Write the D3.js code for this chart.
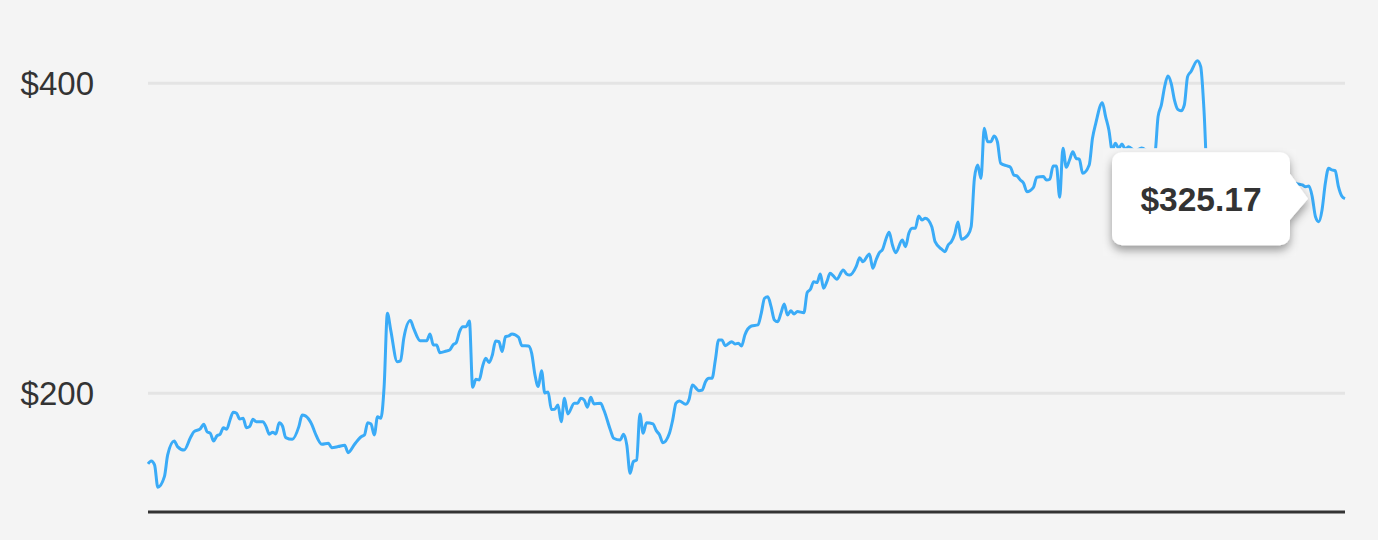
<!DOCTYPE html>
<html>
<head>
<meta charset="utf-8">
<script src="https://cdn.jsdelivr.net/npm/d3@7"></script>
<style>
  html, body { margin: 0; padding: 0; background: #f4f4f4; }
  svg { display: block; }
  .tick text { font-family: "Liberation Sans", Arial, Helvetica, sans-serif; }
</style>
</head>
<body>
<div id="chart"></div>
<script>
// day of year for each reading, and closing price
const days = [
  0, 1, 2, 3, 5, 6, 8, 9, 11, 13, 14, 16, 17, 18, 19, 20, 21, 22, 23, 24,
  25, 26, 27, 28, 29, 30, 31, 32, 33, 35, 36, 37, 38, 39, 40, 41, 42, 44, 46, 47,
  48, 50, 51, 53, 55, 56, 58, 60, 61, 63, 65, 66, 67, 68, 69, 70, 71, 72, 73, 74,
  76, 77, 78, 80, 81, 83, 85, 86, 87, 88, 89, 91, 92, 93, 94, 95, 96, 97, 98, 99,
  100, 101, 102, 103, 104, 105, 106, 107, 108, 109, 110, 111, 113, 114, 116, 117, 118, 119, 120, 121,
  122, 123, 124, 125, 126, 127, 128, 130, 131, 132, 133, 134, 135, 136, 138, 139, 141, 142, 144, 145,
  146, 147, 148, 149, 150, 151, 152, 154, 155, 156, 157, 159, 160, 161, 162, 164, 165, 166, 168, 169,
  170, 171, 172, 173, 174, 175, 176, 178, 179, 180, 181, 182, 184, 186, 187, 188, 189, 190, 191, 192,
  193, 194, 195, 196, 197, 198, 200, 201, 202, 203, 204, 205, 206, 207, 208, 209, 210, 212, 213, 214,
  216, 217, 218, 220, 221, 222, 223, 224, 225, 226, 227, 228, 230, 231, 232, 233, 234, 235, 236, 237,
  239, 240, 242, 243, 244, 245, 246, 247, 248, 250, 251, 252, 253, 254, 255, 256, 257, 258, 259, 260,
  262, 263, 264, 265, 266, 267, 268, 270, 271, 273, 274, 275, 276, 277, 278, 279, 280, 281, 282, 283,
  284, 285, 287, 288, 289, 291, 292, 293, 294, 295, 296, 297, 298, 299, 301, 303, 305, 307, 308, 309,
  310, 311, 312, 313, 314, 315, 316, 317, 318, 320, 321, 322, 323, 324, 327, 331, 335, 338, 341, 344,
  347, 349, 350, 352, 353, 354, 355, 356, 357, 358, 359, 360, 361, 362, 363, 364, 365
];
const prices = [
  154.0, 155.9, 153.4, 139.0, 145.8, 159.8, 168.8, 165.2, 163.0, 171.2, 174.8, 176.8, 179.6, 174.8, 173.8, 168.8, 172.1, 173.2, 177.4, 176.4,
  182.4, 187.4, 186.7, 183.0, 183.5, 177.4, 178.1, 182.8, 181.3, 181.3, 178.1, 173.2, 174.5, 173.4, 180.6, 178.5, 171.0, 169.9, 178.1, 185.6,
  185.0, 179.2, 173.8, 166.7, 167.4, 164.5, 165.2, 166.1, 161.3, 166.7, 171.6, 172.7, 180.6, 179.8, 172.7, 184.5, 183.5, 203.9, 251.2, 240.5,
  220.0, 220.5, 235.1, 246.5, 241.5, 233.5, 233.5, 237.9, 230.8, 230.8, 225.8, 226.9, 227.5, 230.8, 232.3, 239.4, 242.6, 242.6, 246.3, 203.5,
  208.6, 208.2, 216.8, 222.2, 219.4, 224.3, 233.4, 232.9, 226.5, 236.1, 236.6, 237.9, 235.7, 230.3, 230.1, 225.4, 211.4, 203.9, 214.2, 199.8,
  200.5, 189.2, 189.3, 192.1, 181.3, 196.4, 186.3, 193.2, 193.2, 196.4, 195.3, 190.6, 197.0, 192.7, 193.2, 188.8, 175.9, 170.6, 169.5, 173.2,
  166.3, 148.0, 155.5, 156.6, 186.3, 173.8, 180.6, 179.8, 175.5, 172.7, 167.7, 173.8, 182.4, 193.2, 194.6, 192.5, 195.7, 205.0, 201.3, 201.7,
  207.1, 209.3, 209.3, 221.1, 234.0, 234.0, 230.3, 232.9, 231.4, 231.9, 230.1, 237.2, 243.0, 243.7, 251.2, 260.9, 261.9, 255.5, 246.9, 245.8,
  251.2, 257.2, 250.1, 252.9, 250.8, 252.3, 251.6, 264.5, 266.7, 271.6, 271.0, 276.6, 267.4, 271.6, 277.0, 275.3, 273.2, 279.2, 276.6, 275.9,
  281.7, 287.1, 284.5, 289.5, 280.3, 285.6, 290.3, 292.5, 299.0, 303.5, 295.3, 290.3, 298.5, 294.2, 302.8, 306.1, 306.1, 314.0, 311.4, 312.5,
  307.1, 297.4, 292.6, 291.0, 295.3, 297.5, 302.4, 310.1, 299.0, 301.7, 307.1, 338.3, 346.9, 338.3, 370.6, 361.9, 361.9, 365.6, 361.9, 348.0,
  346.3, 345.4, 340.5, 339.8, 337.2, 335.1, 329.7, 332.5, 339.0, 339.4, 337.2, 337.7, 346.3, 346.3, 326.1, 357.7, 345.4, 350.1, 355.5, 351.2,
  350.6, 341.5, 346.9, 364.1, 373.8, 387.1, 378.1, 369.5, 356.6, 360.9, 357.7, 360.5, 357.0, 358.7, 355.9, 357.9, 355.5, 354.6, 378.1, 385.6,
  397.4, 404.3, 399.6, 388.8, 382.8, 381.9, 385.6, 403.9, 407.1, 414.2, 410.3, 382.4, 340.0, 334.0, 330.0, 338.0, 345.0, 350.0, 356.0, 345.0,
  340.0, 338.0, 335.1, 334.0, 332.9, 333.4, 326.5, 313.5, 310.3, 317.9, 335.1, 344.8, 343.7, 343.2, 332.9, 326.9, 325.17
];
const yTicks = [200, 400];

const width = 1378;
const height = 540;

const svg = d3.select('#chart')
    .append('svg')
    .attr('width', width)
    .attr('height', height);

const plot = { left: 148, right: 1345 };

const xScale = d3.scaleLinear()
    .domain([0, 365])
    .range([plot.left, plot.right]);

// floor of the value axis sits at ~123, top ~428
const yScale = d3.scaleLinear()
    .domain([123, 428])
    .range([512, 39.3]);

const defs = svg.append('defs');
defs.append('filter')
    .attr('id', 'shadow')
    .attr('x', '-20%').attr('y', '-30%')
    .attr('width', '140%').attr('height', '170%')
    .append('feDropShadow')
    .attr('dx', 0).attr('dy', 5)
    .attr('stdDeviation', 5)
    .attr('flood-color', '#000')
    .attr('flood-opacity', 0.38);

// gridlines
const grid = svg.append('g')
    .attr('transform', `translate(${plot.left},0)`)
    .call(d3.axisLeft(yScale)
        .tickValues(yTicks)
        .tickSize(-(plot.right - plot.left))
        .tickFormat(''));
grid.select('.domain').remove();
grid.selectAll('.tick line')
    .attr('stroke', '#e4e4e4')
    .attr('stroke-width', 3);

// y labels
const yAxisG = svg.append('g')
    .attr('transform', `translate(${plot.left},0)`)
    .call(d3.axisLeft(yScale)
        .tickValues(yTicks)
        .tickSize(0)
        .tickPadding(54)
        .tickFormat(d => `$${d}`));
yAxisG.select('.domain').remove();
yAxisG.selectAll('.tick text')
    .attr('fill', '#333')
    .attr('font-size', 33)
    .attr('dy', '0.36em');

// baseline
svg.append('line')
    .attr('x1', plot.left)
    .attr('x2', plot.right)
    .attr('y1', yScale(123))
    .attr('y2', yScale(123))
    .attr('stroke', '#333')
    .attr('stroke-width', 3);

const series = days.map((d, i) => ({ day: d, price: prices[i] }));

const line = d3.line()
    .x(d => xScale(d.day))
    .y(d => yScale(d.price))
    .curve(d3.curveMonotoneX);

svg.append('path')
    .datum(series)
    .attr('d', line)
    .attr('fill', 'none')
    .attr('stroke', '#3aabf7')
    .attr('stroke-width', 3)
    .attr('stroke-linejoin', 'round');

// tooltip on last price
const last = series[series.length - 1];
const tipX = xScale(last.day) - 37;
const tipY = yScale(last.price);
const boxW = 178, boxH = 93, arrow = 18;
const boxRight = tipX - arrow;
const boxLeft = boxRight - boxW;
const boxTop = tipY - boxH / 2;

const tip = svg.append('g').classed('tooltip', true);
tip.append('rect')
    .attr('x', boxLeft - 9)
    .attr('y', boxTop - 4)
    .attr('width', boxW + 15)
    .attr('height', boxH + 14)
    .attr('fill', '#f5f5f5');

const r = 10;
const path = d3.path();
path.moveTo(boxLeft + r, boxTop);
path.lineTo(boxRight - r, boxTop);
path.arcTo(boxRight, boxTop, boxRight, boxTop + r, r);
path.lineTo(boxRight, tipY - 25);
path.lineTo(tipX, tipY);
path.lineTo(boxRight, tipY + 21);
path.lineTo(boxRight, boxTop + boxH - r);
path.arcTo(boxRight, boxTop + boxH, boxRight - r, boxTop + boxH, r);
path.lineTo(boxLeft + r, boxTop + boxH);
path.arcTo(boxLeft, boxTop + boxH, boxLeft, boxTop + boxH - r, r);
path.lineTo(boxLeft, boxTop + r);
path.arcTo(boxLeft, boxTop, boxLeft + r, boxTop, r);
path.closePath();

tip.append('path')
    .attr('d', path.toString())
    .attr('fill', '#fff')
    .attr('filter', 'url(#shadow)');

tip.append('text')
    .attr('x', boxLeft + boxW / 2)
    .attr('y', tipY)
    .attr('dy', '0.36em')
    .attr('text-anchor', 'middle')
    .attr('font-family', '"Liberation Sans", Arial, Helvetica, sans-serif')
    .attr('font-weight', 'bold')
    .attr('font-size', 33.5)
    .attr('fill', '#333')
    .text(`$${d3.format('.2f')(last.price)}`);
</script>
</body>
</html>
